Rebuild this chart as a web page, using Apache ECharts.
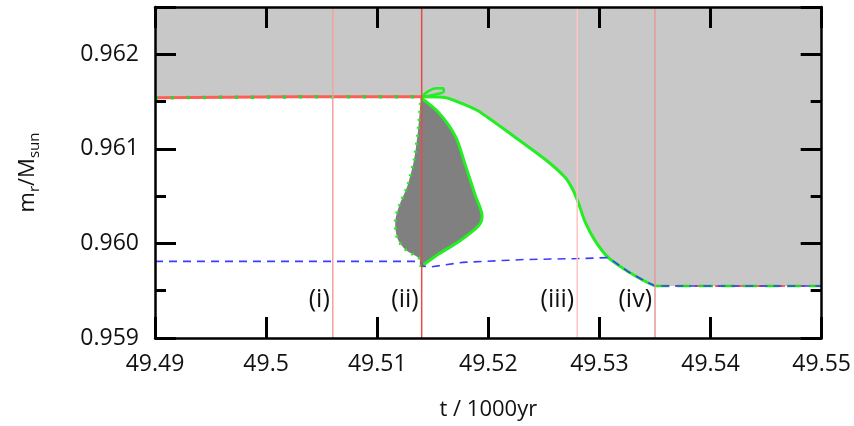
<!DOCTYPE html>
<html>
<head>
<meta charset="utf-8">
<script src="https://cdn.jsdelivr.net/npm/echarts@6/dist/echarts.min.js"></script>
<style>
  html, body { margin: 0; padding: 0; background: #fff; }
  #chart { width: 854px; height: 426px; }
</style>
</head>
<body>
<div id="chart"></div>
<script>
// boundary values
var redLine = [[49.49, 0.96154], [49.503, 0.96155], [49.514, 0.96155]];
var greenCurve = [[49.514, 0.96155], [49.5162, 0.96154], [49.5176, 0.96148], [49.5191, 0.96140],
    [49.5221, 0.96115], [49.5251, 0.96089], [49.5269, 0.96070], [49.5276, 0.96057],
    [49.5281, 0.96043], [49.5287, 0.96023], [49.5296, 0.96003], [49.5308, 0.95985],
    [49.5326, 0.95970], [49.5341, 0.95960], [49.5350, 0.95955]];
var flatRight = [[49.535, 0.95955], [49.55, 0.95955]];
var loop = [[49.514, 0.96155], [49.5146, 0.96161], [49.5153, 0.96164], [49.5159, 0.96164],
    [49.5160, 0.96161], [49.5154, 0.96158], [49.5146, 0.96156], [49.514, 0.96155]];
var dropRight = [[49.51392, 0.96154], [49.51556, 0.96138], [49.51705, 0.96113], [49.51795, 0.96082],
    [49.51885, 0.96050], [49.51944, 0.96029], [49.51914, 0.96019], [49.51735, 0.96002],
    [49.51556, 0.95989], [49.51392, 0.95975]];
var dropLeft = [[49.51392, 0.95975], [49.51377, 0.95984], [49.51258, 0.95993], [49.51183, 0.96005],
    [49.51162, 0.96023], [49.51198, 0.96040], [49.51272, 0.96061], [49.51332, 0.96089],
    [49.51371, 0.96124], [49.51392, 0.96154]];
var blueLine = [[49.49, 0.95981], [49.5139, 0.95981], [49.5141, 0.95976], [49.5147, 0.95975],
    [49.5177, 0.95980], [49.5233, 0.95983], [49.5281, 0.95984], [49.5308, 0.95985],
    [49.5326, 0.95970], [49.5341, 0.95960], [49.535, 0.95955], [49.55, 0.95955]];
var stageTimes = [49.506, 49.514, 49.528, 49.535];
var stageNames = ['(i)', '(ii)', '(iii)', '(iv)'];
var stageColors = ['#f4a0a0', '#e84a4a', '#ffc4c4', '#e39a9a'];
var stageLabelY = 0.9594;

var upperEdge = redLine.concat(greenCurve.slice(1), flatRight.slice(1));
var teardrop = dropRight.concat(dropLeft.slice(1));

var chart = echarts.init(document.getElementById('chart'));
var font = 'Open Sans';

var xTicks = {
    type: 'value', min: 49.49, max: 49.55, interval: 0.01, z: 10,
    axisLine: {show: true, onZero: false, lineStyle: {color: '#000', width: 2.5}},
    axisTick: {show: true, inside: true, length: 21, lineStyle: {color: '#000', width: 3}},
    splitLine: {show: false}
};
var yTicks = {
    type: 'value', min: 0.959, max: 0.9625, interval: 0.001, z: 10,
    axisLine: {show: true, onZero: false, lineStyle: {color: '#000', width: 2.5}},
    axisTick: {show: true, inside: true, length: 21, lineStyle: {color: '#000', width: 3}},
    minorTick: {show: true, splitNumber: 2, length: 11, lineStyle: {color: '#000', width: 3}},
    splitLine: {show: false}
};

var series = [
    {   // light grey region above the boundary
        type: 'line', data: upperEdge, showSymbol: false, silent: true, z: 1, smooth: 0.2,
        lineStyle: {width: 0},
        areaStyle: {origin: 'end', color: '#c8c8c8', opacity: 1}
    },
    {
        type: 'custom', data: [[49.515, 0.9605]], z: 2, silent: true,
        renderItem: function (params, api) {
            var pts = teardrop.map(function (p) { return api.coord(p); });
            return {type: 'polygon', shape: {points: pts, smooth: 0.3}, style: {fill: '#808080'}};
        }
    },
    {
        type: 'line', data: redLine, showSymbol: false, z: 3,
        lineStyle: {color: '#ff5c5c', width: 3}
    },
    {
        type: 'line', data: flatRight, showSymbol: false, z: 3,
        lineStyle: {color: '#ff5c5c', width: 2, type: [10, 10]}
    },
    {
        type: 'line', data: redLine, showSymbol: false, z: 4,
        lineStyle: {color: '#22dd22', width: 3.5, type: [3, 13]}
    },
    {
        type: 'line', data: greenCurve, showSymbol: false, z: 4, smooth: 0.2,
        lineStyle: {color: '#22ee22', width: 3}
    },
    {
        type: 'line', data: flatRight, showSymbol: false, z: 4,
        lineStyle: {color: '#22dd22', width: 2.5, type: [14, 8]}
    },
    {
        type: 'line', data: loop, showSymbol: false, z: 4, smooth: 0.4,
        lineStyle: {color: '#22ee22', width: 2.5}
    },
    {
        type: 'line', data: dropRight, showSymbol: false, z: 4, smooth: 0.3,
        lineStyle: {color: '#22ee22', width: 3}
    },
    {
        type: 'line', data: dropLeft, showSymbol: false, z: 4, smooth: 0.3,
        lineStyle: {color: '#22ee22', width: 3, type: [2, 6]}
    },
    {
        type: 'line', data: blueLine, showSymbol: false, z: 5,
        lineStyle: {color: '#3c3cff', width: 1.6, type: [8, 6]}
    },
    {   // stage labels
        type: 'custom', z: 7, silent: true,
        data: stageTimes.map(function (t, i) { return [t, stageLabelY, i]; }),
        renderItem: function (params, api) {
            var p = api.coord([api.value(0), api.value(1)]);
            return {
                type: 'text', x: p[0] - 3, y: p[1],
                style: {text: stageNames[api.value(2)], fill: '#111', font: '25px "Open Sans"',
                    align: 'right', verticalAlign: 'middle'}
            };
        }
    }
];
// vertical stage lines
stageTimes.forEach(function (t, i) {
    series.push({
        type: 'line', data: [[t, 0.959], [t, 0.9625]], showSymbol: false, z: 6, silent: true,
        lineStyle: {color: stageColors[i], width: 1.5}
    });
});

var option = {
    backgroundColor: '#fff',
    animation: false,
    grid: {left: 155, right: 29, top: 7, bottom: 86},
    xAxis: [
        Object.assign({}, xTicks, {
            position: 'bottom',
            name: 't / 1000yr', nameLocation: 'middle', nameGap: 61,
            nameTextStyle: {fontFamily: font, fontSize: 22, color: '#111'},
            axisLabel: {margin: 15, fontFamily: font, fontSize: 23, color: '#111',
                formatter: function (v) { return String(+v.toFixed(2)); }}
        }),
        Object.assign({}, xTicks, {position: 'top', axisLabel: {show: false}})
    ],
    yAxis: [
        Object.assign({}, yTicks, {
            position: 'left',
            name: '{n|m}{s|r}{n|/M}{s|sun}', nameLocation: 'middle', nameGap: 113, nameRotate: 90,
            nameTextStyle: {
                rich: {
                    n: {fontFamily: font, fontSize: 22, color: '#111', lineHeight: 28},
                    s: {fontFamily: font, fontSize: 15, color: '#111', lineHeight: 28, verticalAlign: 'bottom'}
                }
            },
            axisLabel: {margin: 16, fontFamily: font, fontSize: 23, color: '#111', showMaxLabel: false,
                formatter: function (v) { return v.toFixed(3); }}
        }),
        Object.assign({}, yTicks, {position: 'right', axisLabel: {show: false}})
    ],
    series: series
};
chart.setOption(option);
</script>
</body>
</html>
